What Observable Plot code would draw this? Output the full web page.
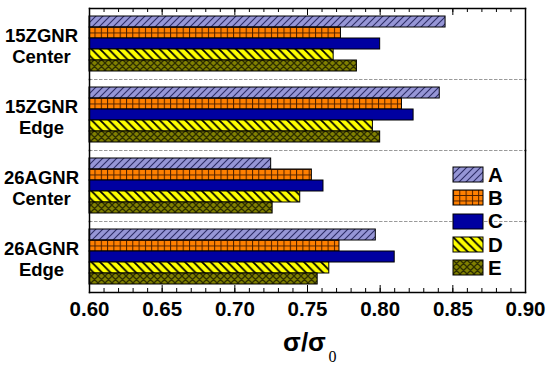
<!DOCTYPE html>
<html><head><meta charset="utf-8">
<script src="https://cdn.jsdelivr.net/npm/d3@7"></script>
<script src="https://cdn.jsdelivr.net/npm/@observablehq/plot@0.6"></script>
<style>
body{margin:0;background:#fff;}
#chart{position:relative;width:550px;height:365px;overflow:hidden;}
#chart > svg{position:absolute;left:0;top:0;}
.lg-swatches{position:absolute;left:453px;top:163px;margin:0 !important;font:bold 20.5px "Liberation Sans",Arial,sans-serif !important;color:#000;}
.lg-swatch{height:23.3px;padding-bottom:0 !important;}
.lg-swatch > svg{margin-right:5px !important;}
.lg-swatch rect{stroke:#000;stroke-width:1px;}
</style></head><body><div id="chart"></div>
<script>
const groups = ["15ZGNR\nCenter", "15ZGNR\nEdge", "26AGNR\nCenter", "26AGNR\nEdge"];
const series = ["A", "B", "C", "D", "E"];
const valuesA = [0.845, 0.841, 0.725, 0.797];
const valuesB = [0.773, 0.815, 0.753, 0.772];
const valuesC = [0.800, 0.823, 0.761, 0.810];
const valuesD = [0.768, 0.795, 0.745, 0.765];
const valuesE = [0.784, 0.800, 0.726, 0.757];
const xTicks = [0.60, 0.65, 0.70, 0.75, 0.80, 0.85, 0.90];
const xMinorTicks = d3.range(60, 91).map(d => d / 100);
const xDomain = [0.60, 0.90];
const xLabel = "σ/σ";
const xLabelSub = "0";
const fills = ["url(#pat-A)", "url(#pat-B)", "#0000a0", "url(#pat-D)", "url(#pat-E)"];

const seriesValues = {A: valuesA, B: valuesB, C: valuesC, D: valuesD, E: valuesE};
const data = groups.flatMap((g, gi) => series.map(s => ({group: g, series: s, value: seriesValues[s][gi]})));

const W = 550, H = 365, mL = 89, mR = 25, mT = 8, mB = 73;
const facetH = (H - mT - mB) / groups.length;

const plot = Plot.plot({
  width: W, height: H,
  marginLeft: mL, marginRight: mR, marginTop: mT, marginBottom: mB,
  style: {fontFamily: "'Liberation Sans', Arial, sans-serif", fontWeight: "bold", background: "white", overflow: "visible", color: "black"},
  x: {domain: xDomain, axis: null},
  y: {domain: series, paddingInner: 0, paddingOuter: 0.7, axis: null},
  fy: {domain: groups, padding: 0, axis: null},
  color: {type: "ordinal", domain: series, range: fills},
  marks: [
    Plot.frame({anchor: "top", stroke: "#9a9a9a", strokeDasharray: "2.5,2.5", strokeWidth: 1}),
    Plot.barX(data, {fy: "group", y: "series", x1: xDomain[0], x2: "value", fill: "series", stroke: "black", strokeWidth: 1}),
    Plot.frame({anchor: "left", strokeWidth: 1.5}),
    Plot.frame({anchor: "right", strokeWidth: 1.5}),
    Plot.frame({anchor: "top", facetAnchor: "top", strokeWidth: 1.5}),
    Plot.frame({anchor: "bottom", facetAnchor: "bottom", strokeWidth: 1.5}),
    Plot.ruleX(xTicks, {facetAnchor: "top", insetBottom: facetH - 7, strokeWidth: 1}),
    Plot.ruleX(xMinorTicks, {facetAnchor: "top", insetBottom: facetH - 4, strokeWidth: 1}),
    Plot.ruleX(xTicks, {facetAnchor: "bottom", insetTop: facetH - 7, strokeWidth: 1}),
    Plot.ruleX(xMinorTicks, {facetAnchor: "bottom", insetTop: facetH - 4, strokeWidth: 1}),
    Plot.axisX(xTicks, {anchor: "bottom", tickSize: 0, tickPadding: 8.5, tickFormat: d3.format(".2f"), fontSize: 20.5, fontWeight: "bold", label: null}),
    Plot.text(groups, {fy: d => d, text: d => d, frameAnchor: "left", dx: -48, dy: 1.5, textAnchor: "middle", lineAnchor: "middle", lineHeight: 1.15, fontSize: 18.5, fontWeight: "bold"}),
    Plot.text([xLabel], {text: d => d, frameAnchor: "bottom", facetAnchor: "bottom", dx: -3, dy: 58, lineAnchor: "bottom", textAnchor: "middle", fontSize: 26, fontWeight: "bold"}),
    Plot.text([xLabelSub], {text: d => d, frameAnchor: "bottom", facetAnchor: "bottom", dx: 21, dy: 69.5, lineAnchor: "bottom", textAnchor: "start", fontSize: 16, fontWeight: "normal", fontFamily: "'Liberation Serif', 'Times New Roman', serif"})
  ]
});

// patterns
const ys = plot.scale("y");
const bw = ys.bandwidth;
const yB = ys.apply("B");
const defs = d3.select(plot).insert("defs", ":first-child");
function pat(id, w, h, y, bg) {
  const p = defs.append("pattern").attr("id", id).attr("patternUnits", "userSpaceOnUse")
    .attr("x", 0).attr("y", y).attr("width", w).attr("height", h);
  p.append("rect").attr("width", w).attr("height", h).attr("fill", bg);
  return p;
}
pat("pat-A", 7, 7, 0, "#9696d6").append("path")
  .attr("d", "M-1,8 L8,-1 M-1,1 L1,-1 M6,8 L8,6").attr("stroke", "#2c2c66").attr("stroke-width", 1.1);
const pB = pat("pat-B", 6.3, bw / 2, yB, "#ff8000");
pB.append("path").attr("d", `M0.5,0 V${bw / 2} M0,0.5 H6.3`).attr("stroke", "#4a1e00").attr("stroke-width", 1);
pat("pat-D", 8.5, 8.5, 0, "#ffff00").append("path")
  .attr("d", "M0,0 L8.5,8.5 M-1,7.5 L1,9.5 M7.5,-1 L9.5,1").attr("stroke", "#000").attr("stroke-width", 1.8);
pat("pat-E", 7, 7, 0, "#808000").append("path")
  .attr("d", "M0,0 L7,7 M-1,6 L1,8 M6,-1 L8,1 M0,7 L7,0 M-1,1 L1,-1 M6,8 L8,6").attr("stroke", "#2e2e00").attr("stroke-width", 1.3);

const chart = document.getElementById("chart");
chart.appendChild(plot);
const legend = plot.legend("color", {columns: 1, swatchWidth: 30, swatchHeight: 15, className: "lg"});
chart.appendChild(legend);
</script>
</body></html>
